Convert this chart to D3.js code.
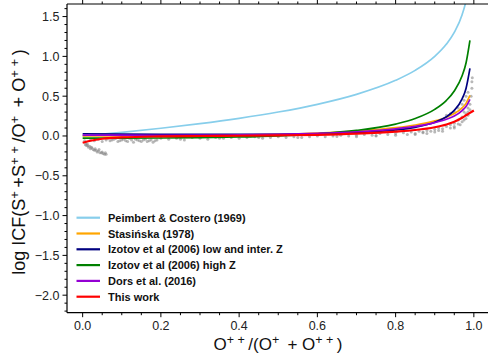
<!DOCTYPE html>
<html><head><meta charset="utf-8">
<script src="https://cdn.jsdelivr.net/npm/d3@7"></script>
<style>html,body{margin:0;padding:0;background:#fff;}svg{display:block;font-family:"Liberation Sans",Arial,sans-serif;}</style>
</head><body><svg id="c" width="488" height="361"></svg>
<script>
// x grid: O++/(O+ + O++)
const xGrid = [0, 0.1, 0.2, 0.3, 0.4, 0.5, 0.6, 0.7, 0.8, 0.85, 0.9, 0.93, 0.95, 0.97, 0.98, 0.99];
const peimbert  = [0, 0.046, 0.097, 0.155, 0.222, 0.301, 0.398, 0.523, 0.699, 0.824, 1.0, 1.155, 1.301, 1.523, 1.699, 2.0];
const stasinska = [0, 0.0001, 0.0012, 0.004, 0.0096, 0.0193, 0.0352, 0.0608, 0.1039, 0.1379, 0.189, 0.2362, 0.2819, 0.353, 0.4102, 0.5091];
const izotovLow = [0.0278, 0.0242, 0.0214, 0.0196, 0.0193, 0.0214, 0.0278, 0.0423, 0.0756, 0.1091, 0.1716, 0.2419, 0.3216, 0.4654, 0.5968, 0.8482];
const izotovHigh= [-0.0264, -0.0268, -0.0252, -0.0208, -0.0124, 0.0022, 0.0268, 0.0694, 0.1494, 0.2192, 0.334, 0.4484, 0.5657, 0.757, 0.9172, 1.2017];
const dors      = [0.012, 0.010, 0.009, 0.010, 0.013, 0.020, 0.032, 0.053, 0.090, 0.120, 0.168, 0.210, 0.250, 0.320, 0.370, 0.460];
const thisX     = [0, 0.02, 0.05, 0.1, 0.2, 0.3, 0.4, 0.5, 0.6, 0.7, 0.8, 0.85, 0.9, 0.93, 0.95, 0.97, 0.98, 0.99, 1.0];
const thisWork  = [-0.085, -0.06, -0.035, -0.018, -0.005, 0.0, 0.003, 0.008, 0.015, 0.03, 0.055, 0.075, 0.11, 0.145, 0.18, 0.23, 0.26, 0.29, 0.32];
const seriesNames = ["Peimbert & Costero (1969)", "Stasińska (1978)", "Izotov et al (2006) low and inter. Z", "Izotov et al (2006) high Z", "Dors et al. (2016)", "This work"];
const seriesColors = ["#87CEEB", "#FFA500", "#000080", "#008000", "#9400D3", "#FF0000"];
// model points (grey)
const modelX = [0.005,0.008,0.010,0.012,0.015,0.018,0.02,0.024,0.027,0.03,0.034,0.037,0.04,0.044,0.048,0.052,0.056,0.06,
 0.02,0.03,0.04,0.05,0.06,0.07,0.08,0.09,0.1,0.11,0.12,0.13,0.14,0.15,0.16,0.17,0.18,0.19,0.2,0.22,0.24,0.26,0.28,0.3,0.32,0.34,0.36,0.38,0.4,0.42,0.44,0.46,0.48,0.5,0.52,0.54,0.56,0.58,
 0.6,0.62,0.64,0.66,0.68,0.7,0.72,0.74,0.76,0.78,0.8,0.82,0.84,0.85,0.86,0.87,0.88,0.89,0.9,0.91,0.92,0.93,0.94,0.94,0.95,0.95,0.96,0.96,0.97,0.97,0.975,0.98,0.98,0.985,0.985,0.99,0.99,0.993,0.995,0.995,0.996,
 0.93,0.94,0.95,0.96,0.97,0.975,0.98,0.985,0.7,0.75,0.8,0.85,0.88,0.9,0.92,
 0.007,0.013,0.022,0.032,0.042,0.05,0.058,0.065,0.075,0.085,0.095,0.105,0.115,0.125,0.135,0.145,0.155,0.165,0.175,0.185,0.25,0.35,0.45,0.55,0.65,0.75,0.83,0.87,0.91,0.95,0.965,0.975,0.985];
const modelY = [-0.06,-0.09,-0.12,-0.10,-0.14,-0.13,-0.16,-0.15,-0.17,-0.18,-0.18,-0.20,-0.19,-0.21,-0.21,-0.22,-0.23,-0.23,
 -0.05,-0.06,-0.04,-0.07,-0.05,-0.06,-0.04,-0.07,-0.05,-0.06,-0.03,-0.08,-0.05,-0.07,-0.04,-0.06,-0.08,-0.05,-0.03,-0.04,-0.03,-0.05,-0.02,-0.03,-0.04,-0.02,-0.03,-0.02,-0.03,-0.02,-0.01,-0.03,-0.02,-0.01,-0.02,-0.01,-0.02,-0.01,
 0.0,-0.01,0.0,0.01,0.0,0.01,0.02,0.01,0.03,0.02,0.03,0.04,0.05,0.03,0.06,0.05,0.07,0.06,0.08,0.10,0.09,0.12,0.14,0.10,0.16,0.12,0.20,0.15,0.24,0.18,0.30,0.28,0.22,0.35,0.30,0.40,0.33,0.50,0.60,0.68,0.73,
 0.26,0.28,0.30,0.35,0.40,0.45,0.50,0.55,-0.01,0.0,0.01,0.02,0.03,0.05,0.06,
 -0.11,-0.12,-0.14,-0.16,-0.17,-0.2,-0.21,-0.03,-0.05,-0.03,-0.06,-0.04,-0.07,-0.05,-0.04,-0.06,-0.05,-0.07,-0.05,-0.06,-0.04,-0.03,-0.02,-0.02,-0.005,0.005,0.02,0.04,0.07,0.1,0.14,0.2,0.26];
const xMajor = [0, 0.2, 0.4, 0.6, 0.8, 1.0];
const yMajor = [-2.0, -1.5, -1.0, -0.5, 0.0, 0.5, 1.0, 1.5];

const svg = d3.select("#c");
const L = 67, R = 489.5, T = 4, B = 312.7;
const x = d3.scaleLinear().domain([-0.04, 1.04]).range([L, R]);
const y = d3.scaleLinear().domain([-2.22, 1.658]).range([B, T]);

svg.append("clipPath").attr("id","clip").append("rect").attr("x",L).attr("y",T).attr("width",R-L).attr("height",B-T);
const plot = svg.append("g").attr("clip-path","url(#clip)");

plot.selectAll("circle").data(modelX.map((v,i)=>[v, modelY[i]])).enter().append("circle")
  .attr("cx", d=>x(d[0])).attr("cy", d=>y(d[1])).attr("r", 1.5)
  .attr("fill", "#888").attr("opacity", 0.6);

const line = d3.line().x(d=>x(d[0])).y(d=>y(d[1])).curve(d3.curveMonotoneX);
const allSeries = [peimbert, stasinska, izotovLow, izotovHigh, dors].map(s => xGrid.map((v,i)=>[v, s[i]]));
allSeries.push(thisX.map((v,i)=>[v, thisWork[i]]));
allSeries.forEach((s, i) => {
  plot.append("path").attr("d", line(s)).attr("fill","none")
    .attr("stroke", seriesColors[i]).attr("stroke-width", i===5 ? 2.2 : 1.7);
});

// axes
const xMinor = d3.range(0, 1.0001, 0.05).map(v=>+v.toFixed(2));
const yMinor = d3.range(-22, 17, 1).map(v=>v/10);
const ax = svg.append("g").attr("stroke","#000").attr("fill","none");
ax.append("line").attr("x1",L).attr("x2",R+5).attr("y1",B).attr("y2",B).attr("stroke-width",1.2);
ax.append("line").attr("x1",L).attr("x2",R+5).attr("y1",T).attr("y2",T).attr("stroke-width",1.2);
ax.append("line").attr("x1",L).attr("x2",L).attr("y1",T).attr("y2",B).attr("stroke-width",1.2);
const isMajX = v => xMajor.some(m=>Math.abs(m-v)<1e-6);
const isMajY = v => yMajor.some(m=>Math.abs(m-v)<1e-6);
xMinor.forEach(v => {
  const len = isMajX(v) ? 4.5 : 2.5;
  ax.append("line").attr("x1",x(v)).attr("x2",x(v)).attr("y1",B).attr("y2",B+len);
  ax.append("line").attr("x1",x(v)).attr("x2",x(v)).attr("y1",T).attr("y2",T-len);
});
yMinor.forEach(v => {
  const len = isMajY(v) ? 4.5 : 2.5;
  ax.append("line").attr("x1",L-len).attr("x2",L).attr("y1",y(v)).attr("y2",y(v));
});
svg.append("g").selectAll("text").data(xMajor).enter().append("text")
  .attr("x", d=>x(d)).attr("y", 330).attr("text-anchor","middle").attr("font-size",12.5).attr("fill","#222")
  .text(d=>d.toFixed(1));
svg.append("g").selectAll("text").data(yMajor).enter().append("text")
  .attr("x", 59.5).attr("y", d=>y(d)+4.5).attr("text-anchor","end").attr("font-size",12.5).attr("fill","#222")
  .text(d=>d3.format(".1f")(d).replace("-", "\u2212"));

// titles
function addParts(t, parts, sup) {
  parts.forEach(p => {
    if (p[1]) t.append("tspan").attr("dy",-6.5).attr("font-size",sup).attr("xml:space","preserve").style("white-space","pre").text(p[0]);
    else t.append("tspan").attr("dy", p[2] ? 6.5 : 0).style("white-space","pre").text(p[0]);
  });
}
const xt = svg.append("text").attr("x", 278).attr("y", 350).attr("text-anchor","middle").attr("font-size",17).attr("fill","#111").style("white-space","pre");
addParts(xt, [["O",0,0],["+ + ",1],["/(O",0,1],["+ ",1],[" + O",0,1],["+ + ",1],[")",0,1]], 12.5);

const yt = svg.append("text").attr("transform","translate(25,162) rotate(-90)").attr("text-anchor","middle").attr("font-size",18).attr("fill","#111").style("white-space","pre");
addParts(yt, [["log ICF(S",0,0],["+ ",1],["+S",0,1],["+ + ",1],["/O",0,1],["+ ",1],[" + O",0,1],["+ + ",1],[")",0,1]], 13);

// legend
const lg = svg.append("g");
seriesNames.forEach((n,i) => {
  const yy = 217.7 + i*15.8;
  lg.append("line").attr("x1",76.5).attr("x2",100).attr("y1",yy).attr("y2",yy).attr("stroke",seriesColors[i]).attr("stroke-width",2.2);
  lg.append("text").attr("x",108).attr("y",yy+4).attr("font-size",11).attr("font-weight","bold").attr("fill","#111").text(n);
});
</script></body></html>
